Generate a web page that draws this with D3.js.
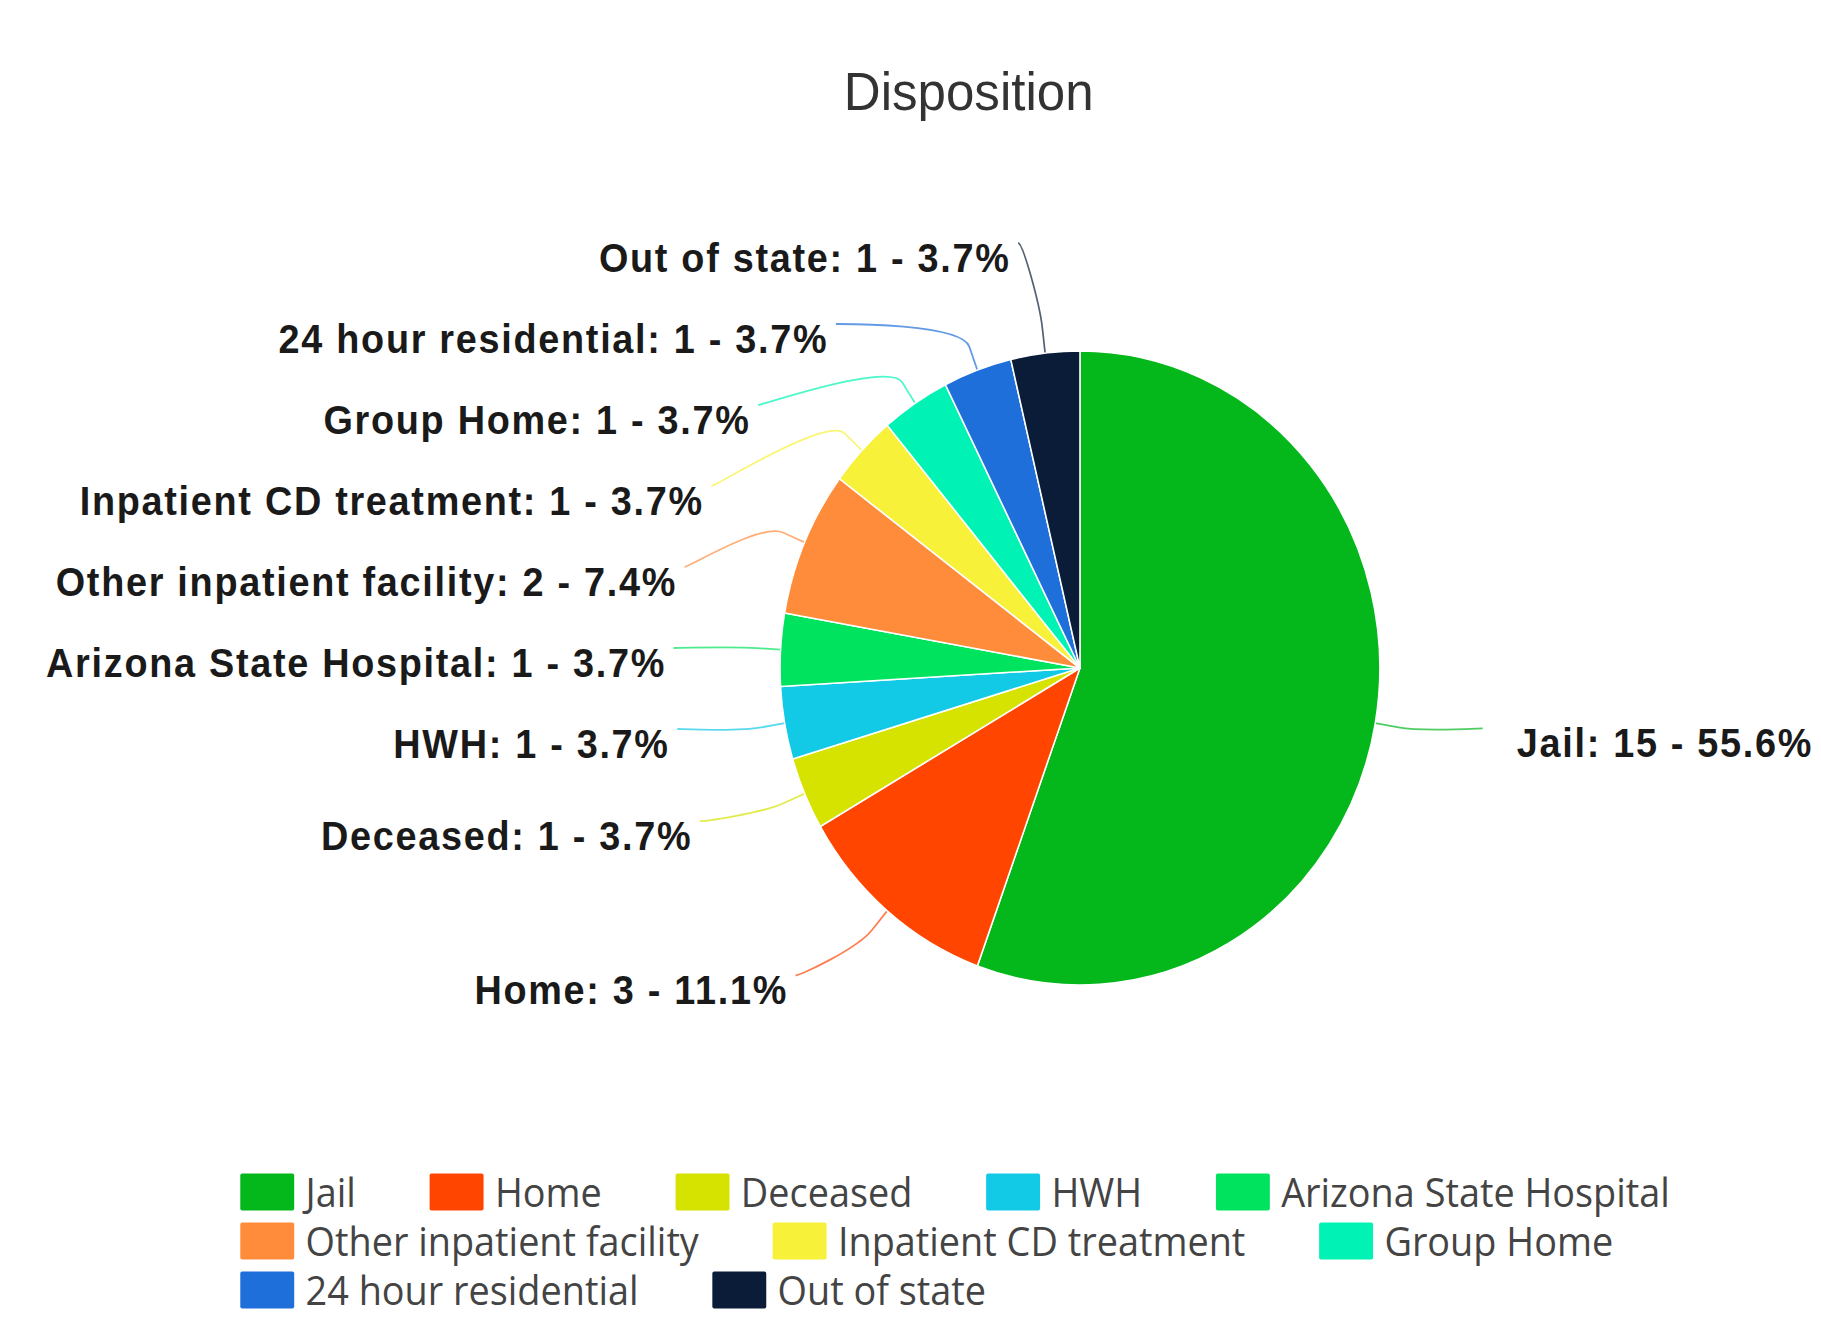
<!DOCTYPE html>
<html>
<head>
<meta charset="utf-8">
<script src="https://cdn.jsdelivr.net/npm/d3@7"></script>
<style>
  html, body { margin: 0; padding: 0; background: #fff; }
  svg { display: block; }
</style>
</head>
<body>
<div id="chart"></div>
<script>
// data
const categories = ['Jail', 'Home', 'Deceased', 'HWH', 'Arizona State Hospital',
  'Other inpatient facility', 'Inpatient CD treatment', 'Group Home',
  '24 hour residential', 'Out of state'];
const counts = [15, 3, 1, 1, 1, 2, 1, 1, 1, 1];
const colors = ['#04b81c', '#ff4500', '#d6e200', '#12c9e6', '#00e35e',
  '#ff8c3a', '#f8f13a', '#00f3b4', '#1f6fdb', '#0b1c38'];
const title = 'Disposition';

const width = 1821, height = 1322;
// the original picture is squeezed a little horizontally
const squeeze = 0.946;

const cx = 1141.6, cy = 668, radius = 317;

const total = d3.sum(counts);
const data = categories.map((c, i) => ({name: c, value: counts[i], color: colors[i]}));

const svg = d3.select('#chart')
  .append('svg')
    .attr('width', width)
    .attr('height', height);

const g = svg.append('g')
  .attr('transform', `scale(${squeeze},1)`);

// title
g.append('text')
  .attr('x', 1024)
  .attr('y', 110)
  .attr('text-anchor', 'middle')
  .style('font-family', '"Liberation Sans", Arial, sans-serif')
  .style('font-size', '54px')
  .style('fill', '#333')
  .text(title);

const pie = d3.pie().sort(null).value(d => d.value);
const arc = d3.arc().innerRadius(0).outerRadius(radius);
const arcs = pie(data);

// label layout, roughly like highcharts does it
const labelR = 430, natR = radius + 100, rowGap = 81, labelTop = cy - radius - 108;
arcs.forEach(a => {
  a.mid = (a.startAngle + a.endAngle) / 2;
  a.left = Math.sin(a.mid) < 0;
  a.ly = cy - natR * Math.cos(a.mid) - 12;
});
[true, false].forEach(side => {
  const group = arcs.filter(a => a.left === side).sort((p, q) => p.ly - q.ly);
  let prev = labelTop - rowGap;
  group.forEach(a => {
    a.ly = Math.max(a.ly, prev + rowGap);
    prev = a.ly;
  });
});
arcs.forEach(a => {
  const dy = a.ly - cy;
  const dx = Math.sqrt(Math.max(0, labelR * labelR - dy * dy));
  a.lx = a.left ? cx - dx : cx + dx;
});

const pointAt = (ang, r) => [cx + r * Math.sin(ang), cy - r * Math.cos(ang)];

// connectors
g.append('g')
  .selectAll('path')
  .data(arcs)
  .join('path')
    .attr('d', a => {
      const t = pointAt(a.mid, radius);
      const b = pointAt(a.mid, radius + 25);
      const p = d3.path();
      p.moveTo(a.lx, a.ly);
      p.bezierCurveTo(a.lx + (a.left ? 5 : -5), a.ly, 2 * b[0] - t[0], 2 * b[1] - t[1], b[0], b[1]);
      p.lineTo(t[0], t[1]);
      return p.toString();
    })
    .attr('fill', 'none')
    .attr('stroke', a => a.data.color)
    .attr('stroke-opacity', 0.7)
    .attr('stroke-width', 1.8);

// slices
g.append('g')
  .attr('transform', `translate(${cx},${cy})`)
  .selectAll('path')
  .data(arcs)
  .join('path')
    .attr('d', arc)
    .attr('fill', a => a.data.color)
    .attr('stroke', '#ffffff')
    .attr('stroke-width', 1.6)
    .attr('stroke-linejoin', 'round');

// labels
g.append('g')
  .selectAll('text')
  .data(arcs)
  .join('text')
    .attr('x', a => a.left ? a.lx - 8 : a.lx + 36)
    .attr('y', a => a.ly + 15)
    .attr('dy', '0.35em')
    .attr('text-anchor', a => a.left ? 'end' : 'start')
    .style('font-family', '"Liberation Sans", Arial, sans-serif')
    .style('font-weight', 'bold')
    .style('font-size', '40px')
    .style('letter-spacing', '1.8px')
    .style('fill', '#1a1a1a')
    .text(a => `${a.data.name}: ${a.data.value} - ${(a.data.value / total * 100).toFixed(1)}%`);

// legend
const legendLeft = 254, legendRight = 1870, legendTop = 1192, rowH = 49;
const swW = 57, swH = 37, textGap = 12, itemGap = 78;
const legend = g.append('g');
let lx = legendLeft, row = 0;
data.forEach(d => {
  const item = legend.append('g');
  item.append('rect')
    .attr('x', 0)
    .attr('y', -swH / 2)
    .attr('width', swW)
    .attr('height', swH)
    .attr('rx', 2)
    .attr('fill', d.color);
  const t = item.append('text')
    .attr('x', swW + textGap)
    .attr('y', 1)
    .attr('dy', '0.35em')
    .style('font-family', '"Open Sans", sans-serif')
    .style('font-size', '40px')
    .style('fill', '#444')
    .text(d.name);
  const w = swW + textGap + t.node().getComputedTextLength();
  if (lx + w > legendRight && lx > legendLeft) {
    row++;
    lx = legendLeft;
  }
  item.attr('transform', `translate(${lx},${legendTop + row * rowH})`);
  lx += w + itemGap;
});
</script>
</body>
</html>
